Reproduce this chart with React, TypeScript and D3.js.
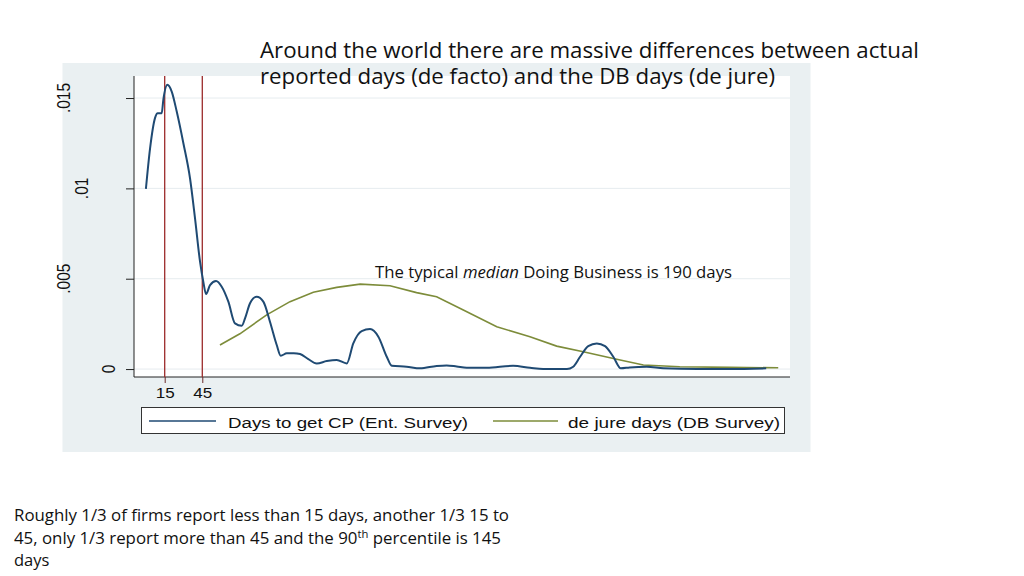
import { useEffect, useRef } from "react"
import * as d3 from "d3"

// kernel density, firm survey (days to get a construction permit)
const surveyDays = [
  0, 3.3, 7.3, 9.4, 12.6, 13.9, 17.1, 20.6, 24.6, 29.9, 35.2, 39.2, 43.2, 45.8, 48, 51.2, 56, 60.5, 65.8, 71.1,
  76.5, 79.1, 83.1, 88.4, 93.7, 99, 104.4, 107.6, 112.4, 118, 123, 129.6, 136.3, 144.3, 152.3, 160.3, 165.5, 172.2,
  178.9, 185.5, 192.2, 196.2, 208, 218.8, 232, 240, 248, 256, 272, 293, 306.5, 317, 336, 341, 346.5, 353, 359.8,
  366.4, 373, 379, 386, 399.7, 413, 440, 466, 495,
]
const surveyDensity = [
  0.00997, 0.0122, 0.0139, 0.01416, 0.01416, 0.0149, 0.01573, 0.01536, 0.01425, 0.0125, 0.01056, 0.00834, 0.00594,
  0.00483, 0.00415, 0.00465, 0.00487, 0.00456, 0.00373, 0.00253, 0.0024, 0.0028, 0.00364, 0.004, 0.00373, 0.00262,
  0.00133, 0.00074, 0.00087, 0.00088, 0.00083, 0.00055, 0.00031, 0.00044, 0.0005, 0.00031, 0.00142, 0.0021, 0.00221,
  0.00179, 0.00068, 0.00018, 0.00013, 0.00004, 0.00017, 0.0002, 0.00014, 0.00007, 0.00007, 0.00018, 0.00007, 0, 0,
  0.00013, 0.00068, 0.00127, 0.00142, 0.00127, 0.00068, 0.00004, 0.00009, 0.00013, 0.00004, 0, 0, 0.00004,
]

// kernel density, Doing Business (de jure days)
const dbDays = [59.1, 75, 96.4, 115, 133.6, 152.3, 171, 194.8, 216, 232, 253.3, 280, 306.5, 327.8, 349, 375.7, 397, 426, 466, 504.6]
const dbDensity = [
  0.00133, 0.00195, 0.003, 0.00373, 0.00425, 0.00452, 0.0047, 0.00461, 0.00423, 0.004, 0.00327, 0.00234, 0.00179,
  0.00127, 0.00096, 0.00054, 0.00022, 0.00013, 0.00009, 0.00007,
]

const yTicks = [0, 0.005, 0.01, 0.015]
const yTickLabels = ["0", ".005", ".01", ".015"]
const markerDays = [15, 45]
const legendLabels = ["Days to get CP (Ent. Survey)", "de jure days (DB Survey)"]

const titleLines = [
  "Around the world there are massive differences between actual",
  "reported days (de facto) and the DB days (de jure)",
]
const noteLines = [
  "Roughly 1/3 of firms report less than 15 days, another 1/3 15 to",
  "45, only 1/3 report more than 45 and the 90",
  "days",
]

const W = 1024
const H = 576

export default function App() {
  const svgRef = useRef<SVGSVGElement>(null)

  useEffect(() => {
    if (!svgRef.current) return
    document.body.style.margin = "0"

    const svg = d3.select(svgRef.current)
    svg.selectAll("*").remove()

    const stataFont = "'Liberation Sans', Arial, sans-serif"
    const slideFont = "'Open Sans', sans-serif"

    const plot = { left: 134, right: 790, top: 76, bottom: 377 }

    // outer graph region
    svg.append("rect").attr("x", 62.5).attr("y", 63).attr("width", 748).attr("height", 389).attr("fill", "#eaf0f2")
    svg
      .append("rect")
      .attr("x", plot.left)
      .attr("y", plot.top)
      .attr("width", plot.right - plot.left)
      .attr("height", plot.bottom - plot.top)
      .attr("fill", "#fff")

    const x = d3.scaleLinear().domain([-9.5, 514]).range([plot.left, plot.right])
    const y = d3.scaleLinear().domain([-0.00044, 0.01622]).range([plot.bottom, plot.top])

    // grid
    svg
      .append("g")
      .selectAll("line")
      .data(yTicks)
      .enter()
      .append("line")
      .attr("x1", plot.left)
      .attr("x2", plot.right)
      .attr("y1", (d) => y(d))
      .attr("y2", (d) => y(d))
      .attr("stroke", "#e6ecef")
      .attr("stroke-width", 1)

    // y axis
    const yAxis = d3
      .axisLeft(y)
      .tickValues(yTicks)
      .tickSize(8)
      .tickFormat(() => "")
    const yg = svg.append("g").attr("transform", `translate(${plot.left},0)`).call(yAxis)
    yg.select(".domain").attr("stroke", "#222").attr("d", `M0,${plot.top}V${plot.bottom}`)
    yg.selectAll(".tick line").attr("stroke", "#222")

    // rotated y labels, Stata-style offsets depend on label width
    const ctx = document.createElement("canvas").getContext("2d")!
    ctx.font = "15px 'Liberation Sans'"
    yTicks.forEach((t, i) => {
      const w = ctx.measureText(yTickLabels[i]).width
      const cx = 128 - 2.15 * w + 5
      svg
        .append("text")
        .attr("transform", `translate(${cx},${y(t)}) rotate(-90) scale(1,1.15)`)
        .attr("text-anchor", "middle")
        .attr("font-family", stataFont)
        .attr("font-size", 15.5)
        .attr("fill", "#111")
        .text(yTickLabels[i])
    })

    // x axis
    const xAxis = d3
      .axisBottom(x)
      .tickValues(markerDays)
      .tickSize(6)
      .tickPadding(4)
      .tickFormat((d) => String(d))
    const xg = svg.append("g").attr("transform", `translate(0,${plot.bottom})`).call(xAxis)
    xg.select(".domain").attr("stroke", "#222").attr("d", `M${plot.left},0H${plot.right}`)
    xg.selectAll(".tick line").attr("stroke", "#6b2a2a")
    xg.selectAll(".tick text")
      .attr("font-family", stataFont)
      .attr("font-size", 15.3)
      .attr("textLength", 19)
      .attr("lengthAdjust", "spacingAndGlyphs")
      .attr("fill", "#111")

    // reference lines at 15 and 45 days
    svg
      .append("g")
      .selectAll("line")
      .data(markerDays)
      .enter()
      .append("line")
      .attr("x1", (d) => x(d))
      .attr("x2", (d) => x(d))
      .attr("y1", plot.top)
      .attr("y2", plot.bottom)
      .attr("stroke", "#9b2a2a")
      .attr("stroke-width", 1.3)

    const survey = surveyDays.map((d, i) => [d, surveyDensity[i]] as [number, number])
    const db = dbDays.map((d, i) => [d, dbDensity[i]] as [number, number])

    const smoothLine = d3
      .line<[number, number]>()
      .x((d) => x(d[0]))
      .y((d) => y(d[1]))
      .curve(d3.curveMonotoneX)
    const plainLine = d3
      .line<[number, number]>()
      .x((d) => x(d[0]))
      .y((d) => y(d[1]))

    svg
      .append("path")
      .attr("d", plainLine(db))
      .attr("fill", "none")
      .attr("stroke", "#7d8c3a")
      .attr("stroke-width", 1.6)

    svg
      .append("path")
      .attr("d", smoothLine(survey))
      .attr("fill", "none")
      .attr("stroke", "#1f4a73")
      .attr("stroke-width", 2)
      .attr("stroke-linejoin", "round")

    // legend
    const legend = svg.append("g")
    legend
      .append("rect")
      .attr("x", 141.5)
      .attr("y", 407.5)
      .attr("width", 643)
      .attr("height", 26)
      .attr("fill", "#fff")
      .attr("stroke", "#333")
      .attr("stroke-width", 1)
    const legendItems = [
      { color: "#1f4a73", x0: 149, x1: 216, tx: 228, tl: 240 },
      { color: "#7d8c3a", x0: 493, x1: 558, tx: 568, tl: 212 },
    ]
    legendItems.forEach((it, i) => {
      legend
        .append("line")
        .attr("x1", it.x0)
        .attr("x2", it.x1)
        .attr("y1", 421)
        .attr("y2", 421)
        .attr("stroke", it.color)
        .attr("stroke-width", 1.5)
      legend
        .append("text")
        .attr("x", it.tx)
        .attr("y", 427.5)
        .attr("font-family", stataFont)
        .attr("font-size", 15.3)
        .attr("textLength", it.tl)
        .attr("lengthAdjust", "spacingAndGlyphs")
        .attr("fill", "#111")
        .text(legendLabels[i])
    })

    // slide text
    const title = svg.append("g").attr("font-family", slideFont).attr("font-size", 21).attr("fill", "#111")
    title
      .append("text")
      .attr("x", 260)
      .attr("y", 58)
      .attr("textLength", 659)
      .attr("lengthAdjust", "spacingAndGlyphs")
      .text(titleLines[0])
    title
      .append("text")
      .attr("x", 260)
      .attr("y", 84)
      .attr("textLength", 515)
      .attr("lengthAdjust", "spacingAndGlyphs")
      .text(titleLines[1])

    const note = svg
      .append("text")
      .attr("x", 375)
      .attr("y", 278)
      .attr("font-family", slideFont)
      .attr("font-size", 16.5)
      .attr("fill", "#111")
      .attr("textLength", 357)
      .attr("lengthAdjust", "spacingAndGlyphs")
    note.append("tspan").text("The typical ")
    note.append("tspan").attr("font-style", "italic").text("median")
    note.append("tspan").text(" Doing Business is 190 days")

    const foot = svg.append("g").attr("font-family", slideFont).attr("font-size", 16.5).attr("fill", "#111")
    foot
      .append("text")
      .attr("x", 14)
      .attr("y", 521)
      .attr("textLength", 495)
      .attr("lengthAdjust", "spacingAndGlyphs")
      .text(noteLines[0])
    const l2 = foot
      .append("text")
      .attr("x", 14)
      .attr("y", 544)
      .attr("textLength", 487)
      .attr("lengthAdjust", "spacingAndGlyphs")
    l2.append("tspan").text(noteLines[1])
    l2.append("tspan").attr("font-size", 11).attr("dy", -6).text("th")
    l2.append("tspan").attr("dy", 6).text(" percentile is 145")
    foot.append("text").attr("x", 14).attr("y", 566).text(noteLines[2])
  }, [])

  return <svg ref={svgRef} width={W} height={H} style={{ display: "block" }} />
}
